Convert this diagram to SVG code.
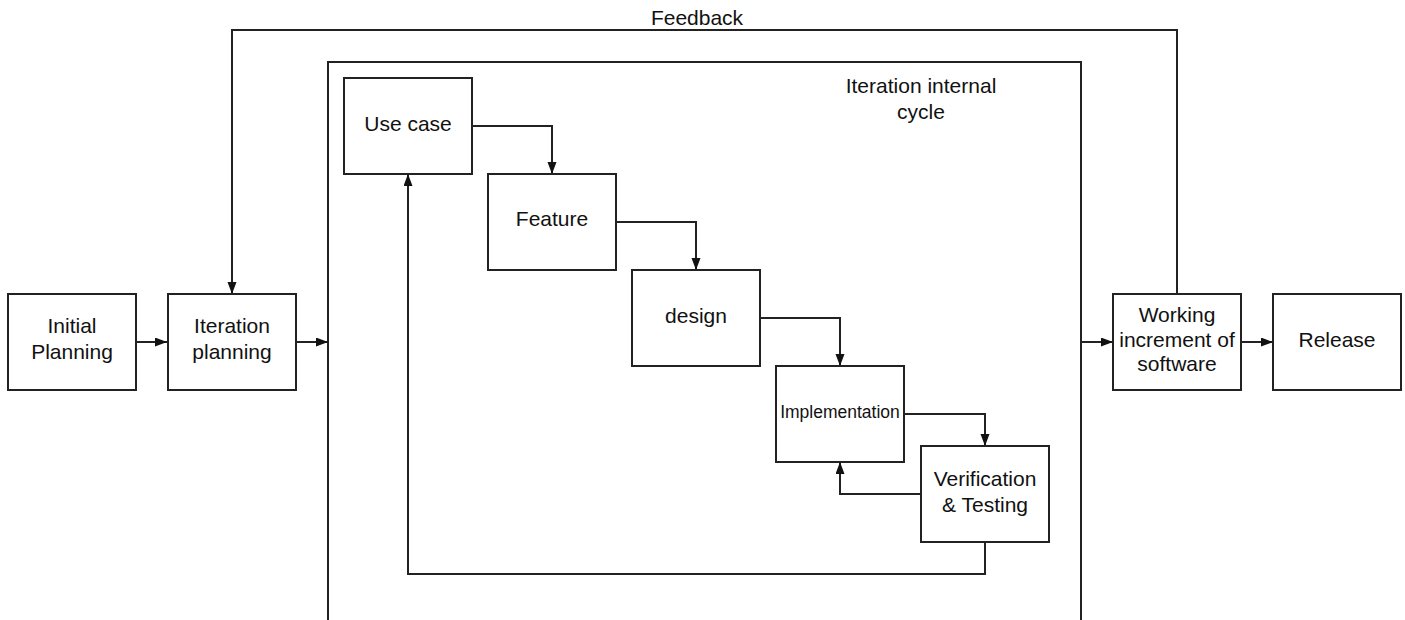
<svg xmlns="http://www.w3.org/2000/svg" width="1405" height="620" viewBox="0 0 1405 620">
<style>
.box{fill:#fff;stroke:#222;stroke-width:2}
.frame{fill:none;stroke:#222;stroke-width:2}
.conn{fill:none;stroke:#222;stroke-width:2}
text{font-family:"Liberation Sans",Arial,sans-serif;font-size:21px;fill:#111;text-anchor:middle}
.small{font-size:17.5px}
</style>
<defs>
<marker id="ah" markerUnits="userSpaceOnUse" markerWidth="13" markerHeight="10" refX="12" refY="4.5" orient="auto">
<path d="M0,0 L12,4.5 L0,9 z" fill="#111"/>
</marker>
</defs>
<rect width="1405" height="620" fill="#fff"/>
<g id="frame">
<path class="frame" d="M328,622 L328,62 L1081,62 L1081,622"/>
<text x="921" y="93">Iteration internal</text>
<text x="921" y="119">cycle</text>
</g>
<g id="connectors">
<path class="conn" d="M136,342 L167,342" marker-end="url(#ah)"/>
<path class="conn" d="M296,342 L328,342" marker-end="url(#ah)"/>
<path class="conn" d="M1177,294 L1177,30 L232,30 L232,294" marker-end="url(#ah)"/>
<path class="conn" d="M1081,342 L1113,342" marker-end="url(#ah)"/>
<path class="conn" d="M1241,342 L1273,342" marker-end="url(#ah)"/>
<path class="conn" d="M472,126 L552,126 L552,174" marker-end="url(#ah)"/>
<path class="conn" d="M616,222 L696,222 L696,270" marker-end="url(#ah)"/>
<path class="conn" d="M760,318 L840,318 L840,366" marker-end="url(#ah)"/>
<path class="conn" d="M904,414 L985,414 L985,446" marker-end="url(#ah)"/>
<path class="conn" d="M921,494 L840,494 L840,462" marker-end="url(#ah)"/>
<path class="conn" d="M985,542 L985,574 L408,574 L408,174" marker-end="url(#ah)"/>
<text x="697" y="25">Feedback</text>
</g>
<g id="initial-planning">
<rect class="box" x="8" y="294" width="128" height="96"/>
<text x="72" y="333">Initial</text>
<text x="72" y="359">Planning</text>
</g>
<g id="iteration-planning">
<rect class="box" x="168" y="294" width="128" height="96"/>
<text x="232" y="333">Iteration</text>
<text x="232" y="359">planning</text>
</g>
<g id="use-case">
<rect class="box" x="344" y="78" width="128" height="96"/>
<text x="408" y="131">Use case</text>
</g>
<g id="feature">
<rect class="box" x="488" y="174" width="128" height="96"/>
<text x="552" y="226">Feature</text>
</g>
<g id="design">
<rect class="box" x="632" y="270" width="128" height="96"/>
<text x="696" y="323">design</text>
</g>
<g id="implementation">
<rect class="box" x="776" y="366" width="128" height="96"/>
<text class="small" x="840" y="418">Implementation</text>
</g>
<g id="verification">
<rect class="box" x="921" y="446" width="128" height="96"/>
<text x="985" y="486">Verification</text>
<text x="985" y="512">&amp; Testing</text>
</g>
<g id="working-increment">
<rect class="box" x="1113" y="294" width="128" height="96"/>
<text x="1177" y="322">Working</text>
<text x="1177" y="347">increment of</text>
<text x="1177" y="371">software</text>
</g>
<g id="release">
<rect class="box" x="1273" y="294" width="128" height="96"/>
<text x="1337" y="347">Release</text>
</g>
</svg>
